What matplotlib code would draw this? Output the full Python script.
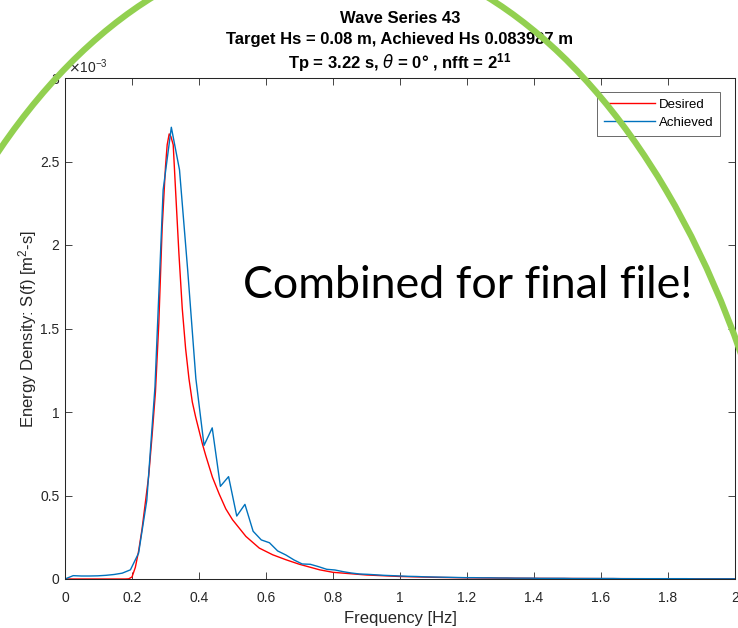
import numpy as np
import matplotlib
matplotlib.use("Agg")
import matplotlib.pyplot as plt
from matplotlib.patches import Ellipse

# ---------------- data (values in units of 1e-3 m^2 s) ----------------
df_bin = 50.0 / 2048  # FFT bin spacing (fs = 50 Hz, nfft = 2^11)
achieved_S = [0.000, 0.020, 0.018, 0.018, 0.019, 0.022, 0.027, 0.035, 0.055, 0.155,
              0.470, 1.150, 2.330, 2.705, 2.450, 1.850, 1.200, 0.800, 0.905, 0.555,
              0.613, 0.377, 0.447, 0.286, 0.234, 0.217, 0.168, 0.144, 0.114, 0.090,
              0.088, 0.074, 0.058, 0.054, 0.044, 0.036, 0.030, 0.028, 0.025, 0.022,
              0.020, 0.018, 0.016, 0.015, 0.013, 0.012, 0.011, 0.010, 0.009, 0.008,
              0.008, 0.007, 0.007, 0.006, 0.006, 0.005, 0.005, 0.005, 0.004, 0.004,
              0.004, 0.004, 0.003, 0.003, 0.003, 0.003, 0.003, 0.003, 0.002, 0.002,
              0.002, 0.002, 0.002, 0.002, 0.002, 0.002, 0.002, 0.001, 0.001, 0.001,
              0.001, 0.001, 0.001]
achieved_f = np.arange(len(achieved_S)) * df_bin

desired_f = [0.00, 0.10, 0.18, 0.19, 0.20, 0.21, 0.22, 0.23, 0.24, 0.25, 0.26, 0.27,
             0.28, 0.29, 0.30, 0.305, 0.311, 0.316, 0.323, 0.33, 0.34, 0.35, 0.36,
             0.37, 0.38, 0.39, 0.40, 0.41, 0.42, 0.44, 0.46, 0.48, 0.50, 0.54, 0.58,
             0.62, 0.66, 0.70, 0.76, 0.80, 0.90, 1.00, 1.10, 1.20, 1.40, 1.60, 1.80, 2.00]
desired_S = [0.000, 0.000, 0.000, 0.001, 0.012, 0.070, 0.170, 0.300, 0.460, 0.620,
             0.860, 1.120, 1.530, 2.100, 2.470, 2.600, 2.665, 2.650, 2.600, 2.330,
             1.950, 1.620, 1.380, 1.200, 1.060, 0.970, 0.890, 0.810, 0.740, 0.610,
             0.510, 0.420, 0.355, 0.255, 0.185, 0.145, 0.115, 0.088, 0.055, 0.040,
             0.024, 0.015, 0.010, 0.007, 0.004, 0.0025, 0.0015, 0.001]

x_ticks = [0, 0.2, 0.4, 0.6, 0.8, 1.0, 1.2, 1.4, 1.6, 1.8, 2.0]
x_ticklabels = ["0", "0.2", "0.4", "0.6", "0.8", "1", "1.2", "1.4", "1.6", "1.8", "2"]
y_ticks = [0, 0.5, 1, 1.5, 2, 2.5, 3]
y_ticklabels = ["0", "0.5", "1", "1.5", "2", "2.5", "3"]

title_lines = ["Wave Series 43",
               "Target Hs = 0.08 m, Achieved Hs 0.083987 m",
               r"Tp = 3.22 s, $\theta$ = 0° , nfft = 2$\mathregular{^{11}}$"]
legend_labels = ["Desired", "Achieved"]
overlay_text = "Combined for final file!"

# ---------------- style ----------------
plt.rcParams['font.family'] = ['Liberation Sans', 'DejaVu Sans']
AX_COL = '#262626'
W, H = 738, 628
fig = plt.figure(figsize=(W / 100, H / 100), dpi=100)
fig.patch.set_facecolor('white')

ax = fig.add_axes([65 / W, 1 - 579 / H, 670 / W, 501 / H])
l1, = ax.plot(desired_f, desired_S, color='#FF0000', lw=1.0, label=legend_labels[0])
l2, = ax.plot(achieved_f, achieved_S, color='#0072BD', lw=1.0, label=legend_labels[1])
ax.set_xlim(0, 2)
ax.set_ylim(0, 3)
ax.set_xticks(x_ticks)
ax.set_xticklabels(x_ticklabels)
ax.set_yticks(y_ticks)
ax.set_yticklabels(y_ticklabels)
for s in ax.spines.values():
    s.set_color(AX_COL)
    s.set_linewidth(0.75)
ax.tick_params(direction='in', length=5, width=0.6, colors=AX_COL, labelsize=10,
               top=True, right=True, labelcolor=AX_COL)
ax.tick_params(axis='x', pad=9)
ax.tick_params(axis='y', pad=4)

ax.set_xlabel("Frequency [Hz]", fontsize=12, color=AX_COL, labelpad=4)
ax.set_ylabel(r"Energy Density: S(f) [m$\mathregular{^2}$-s]", fontsize=12,
              color=AX_COL, labelpad=1)
ax.text(0.004, 1.004, r"$\times$10$\mathregular{^{-3}}$", transform=ax.transAxes,
        ha='left', va='bottom', fontsize=10, color=AX_COL)

leg = ax.legend(loc='upper right', bbox_to_anchor=(720 / W, 1 - 92 / H),
                bbox_transform=fig.transFigure, fontsize=9.5, frameon=True,
                fancybox=False, borderaxespad=0, borderpad=0.5,
                labelspacing=0.45, handlelength=3.9, handletextpad=0.25)
leg.get_frame().set_edgecolor(AX_COL)
leg.get_frame().set_linewidth(0.6)

# title lines
for txt, yb in zip(title_lines, [23, 44, 68]):
    fig.text(400 / W, 1 - yb / H, txt, ha='center', va='baseline',
             fontsize=12, fontweight='bold', color='black')

# overlay big text, fitted to measured width
fig.canvas.draw()
big = fig.text(243 / W, 1 - 298 / H, overlay_text, ha='left', va='baseline',
               fontsize=36, color='black', family=['Lato', 'DejaVu Sans'])
r = fig.canvas.get_renderer()
wpx = big.get_window_extent(r).width
big.set_fontsize(36 * 450 / wpx)

# green arc overlay
ov = fig.add_axes([0, 0, 1, 1], zorder=10)
ov.set_xlim(0, W)
ov.set_ylim(H, 0)
ov.axis('off')
ov.patch.set_alpha(0)
ov.add_patch(Ellipse((320, 780), 980, 1666, fill=False, ec='#92D050', lw=4.5))

fig.savefig("out.png", dpi=100)
